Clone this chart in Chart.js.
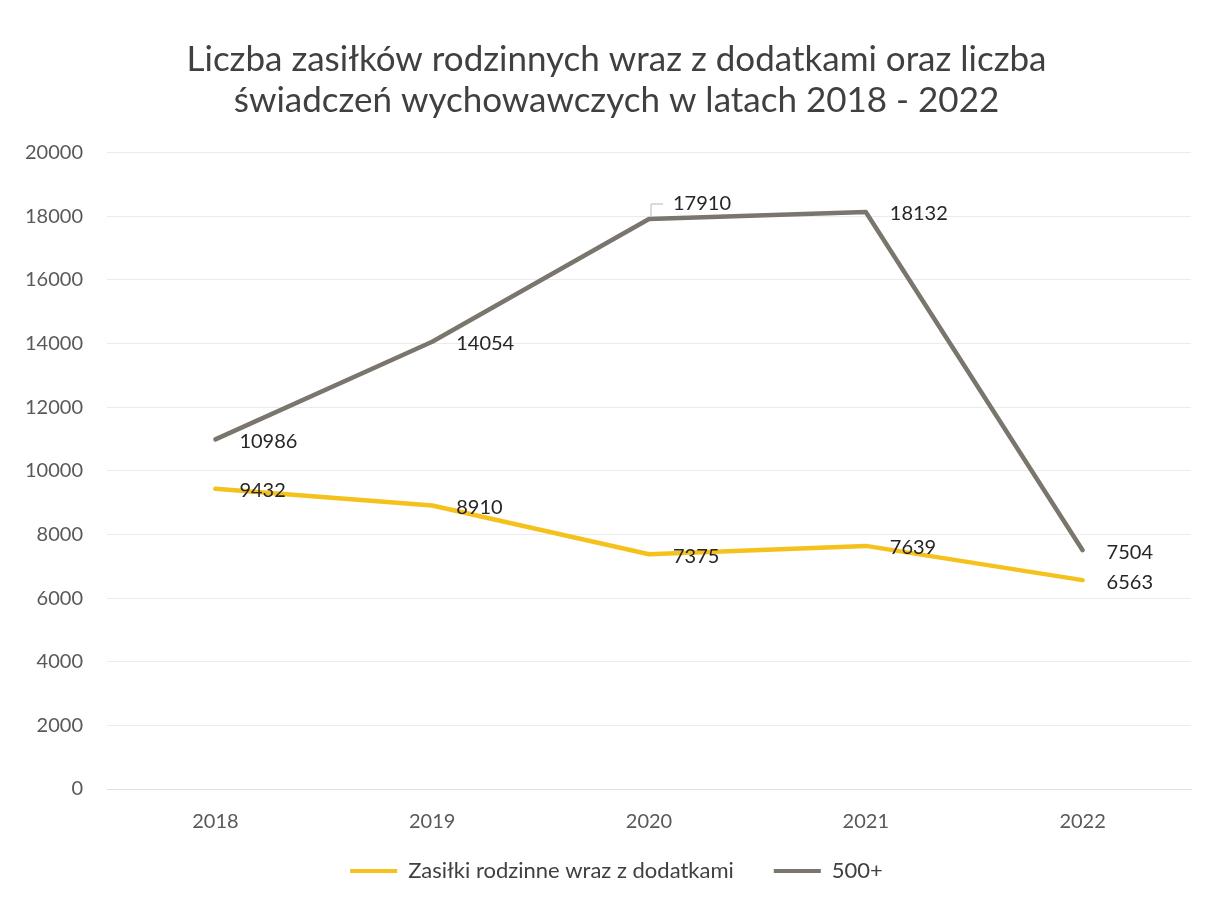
<!DOCTYPE html>
<html>
<head>
<meta charset="utf-8">
<script src="https://cdn.jsdelivr.net/npm/chart.js@4/dist/chart.umd.min.js"></script>
<style>
  html, body { margin: 0; padding: 0; background: #ffffff; }
  #wrap { width: 1211px; height: 899px; position: relative; }
</style>
</head>
<body>
<div id="wrap"><canvas id="c" width="1211" height="899"></canvas></div>
<script>
const categories = ['2018', '2019', '2020', '2021', '2022'];
const zasilkiValues = [9432, 8910, 7375, 7639, 6563];
const plus500Values = [10986, 14054, 17910, 18132, 7504];
const seriesNames = ['Zasiłki rodzinne wraz z dodatkami', '500+'];
const titleLines = ['Liczba zasiłków rodzinnych wraz z dodatkami oraz liczba', 'świadczeń wychowawczych w latach 2018 - 2022'];
const yTickMin = 0, yTickMax = 20000, yTickStep = 2000;

const FONT = 'Lato, "Open Sans", sans-serif';
const YELLOW = '#F5C11C';
const GRAY = '#7A766D';

// let tick labels draw outside the (deliberately narrow) scale boxes
function noLabelClip(scale) { scale._computeLabelArea = function () { return undefined; }; }

const valueLabels = {
  id: 'valueLabels',
  afterDatasetsDraw(chart, args, opts) {
    const ctx = chart.ctx;
    ctx.save();
    ctx.font = opts.fontSize + 'px ' + FONT;
    ctx.fillStyle = opts.color;
    ctx.textAlign = 'left';
    ctx.textBaseline = 'middle';
    chart.data.datasets.forEach((ds, di) => {
      const meta = chart.getDatasetMeta(di);
      meta.data.forEach((pt, i) => {
        const ov = (opts.overrides[di] && opts.overrides[di][i]) || null;
        const dx = ov ? ov.dx : opts.dx;
        const dy = ov ? ov.dy : opts.dy;
        const tx = pt.x + dx, ty = pt.y + dy;
        if (ov && ov.leader) {
          ctx.save();
          ctx.strokeStyle = '#b8b8b8';
          ctx.lineWidth = 1;
          ctx.beginPath();
          ctx.moveTo(pt.x + 2, pt.y - 3);
          ctx.lineTo(pt.x + 2, ty);
          ctx.lineTo(tx - 10, ty);
          ctx.stroke();
          ctx.restore();
        }
        ctx.fillText(String(ds.data[i]), tx, ty);
      });
    });
    ctx.restore();
  }
};

new Chart(document.getElementById('c'), {
  type: 'line',
  data: {
    labels: categories,
    datasets: [
      { label: seriesNames[0], data: zasilkiValues, borderColor: YELLOW, backgroundColor: YELLOW, borderWidth: 4.5, pointRadius: 0, tension: 0, borderCapStyle: 'round', borderJoinStyle: 'round' },
      { label: seriesNames[1], data: plus500Values, borderColor: GRAY, backgroundColor: GRAY, borderWidth: 4.5, pointRadius: 0, tension: 0, borderCapStyle: 'round', borderJoinStyle: 'round' }
    ]
  },
  options: {
    responsive: false,
    animation: false,
    layout: { padding: { left: 42, right: 20, top: 0, bottom: 7 } },
    scales: {
      x: {
        offset: true,
        grid: { display: false, drawTicks: false },
        border: { display: true, color: '#e0e0e0', width: 1 },
        ticks: { color: '#595959', font: { family: FONT, size: 20 }, padding: 21 },
        afterFit(scale) { scale.height = 31; noLabelClip(scale); }
      },
      y: {
        min: yTickMin, max: yTickMax,
        grid: { color: '#ebebeb', lineWidth: 1, drawTicks: false },
        border: { display: false },
        ticks: { stepSize: yTickStep, color: '#595959', font: { family: FONT, size: 20 }, padding: 24,
                 callback: (v) => String(v) },
        afterFit(scale) { scale.width = 65; noLabelClip(scale); }
      }
    },
    plugins: {
      title: {
        display: true,
        text: titleLines,
        color: '#404040',
        font: { family: FONT, size: 35, weight: 'normal', lineHeight: 1.15 },
        padding: { top: 40, bottom: 32 }
      },
      legend: {
        display: true,
        position: 'bottom',
        labels: {
          color: '#404040',
          font: { family: FONT, size: 22 },
          boxWidth: 47,
          boxHeight: 4,
          padding: 40,
          generateLabels(chart) {
            return chart.data.datasets.map((ds, i) => ({
              text: ds.label, fillStyle: ds.borderColor, strokeStyle: ds.borderColor,
              lineWidth: 0, hidden: false, datasetIndex: i, fontColor: '#404040'
            }));
          }
        }
      },
      tooltip: { enabled: false },
      valueLabels: {
        fontSize: 20, color: '#262626', dx: 24, dy: 2,
        overrides: { 1: { 2: { dx: 24, dy: -15, leader: true } } }
      }
    }
  },
  plugins: [valueLabels]
});
</script>
</body>
</html>
